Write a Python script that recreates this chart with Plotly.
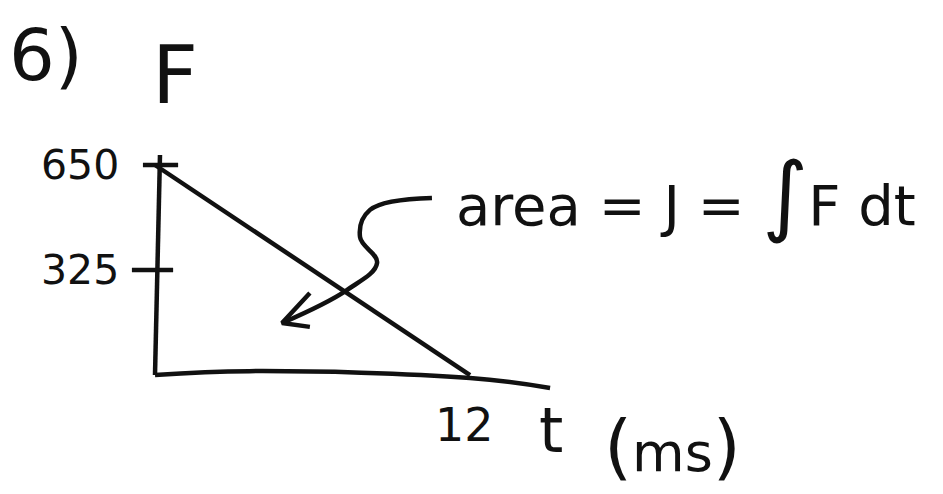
import plotly.graph_objects as go

# Force pulse: F falls linearly from 650 at t = 0 to zero at t = 12 ms
t_pulse = [0, 12]
f_pulse = [650, 0]

# Hand-drawn axes (slight wobble on the time axis)
t_axis_t = [0, 3.6, 12, 15.05]
t_axis_f = [0, 12, -9, -40]
f_axis_t = [0, 0.19]
f_axis_f = [0, 681]

# Tick marks on the force axis
tick_values = [650, 325]
tick_labels = ["650", "325"]
tick_left = [-0.46, -0.88]
tick_right = [0.88, 0.69]

# Curved pointer from the note into the triangle
arrow_t = [10.55, 8.19, 7.81, 8.46, 7.31, 4.84]
arrow_f = [548, 511, 427, 347, 263, 161]
head_t = [5.90, 4.84, 5.90]
head_f = [254, 161, 149]

INK = "#111111"
LW = 4.5
FONT = "DejaVu Sans"

fig = go.Figure()


def stroke(xs, ys, shape="linear"):
    fig.add_trace(go.Scatter(
        x=xs, y=ys, mode="lines",
        line=dict(color=INK, width=LW, shape=shape, smoothing=1.1),
        hoverinfo="skip", showlegend=False,
    ))


stroke(f_axis_t, f_axis_f)
stroke(t_axis_t, t_axis_f, shape="spline")
stroke(t_pulse, f_pulse)
for v, a, b in zip(tick_values, tick_left, tick_right):
    stroke([a, b], [v, v])
stroke(arrow_t, arrow_f, shape="spline")
stroke(head_t, head_f)


def label(text, x, y, size, xanchor="center", yanchor="middle"):
    fig.add_annotation(
        x=x, y=y, xref="x", yref="y", text=text, showarrow=False,
        xanchor=xanchor, yanchor=yanchor,
        font=dict(family=FONT, size=size, color=INK),
    )


for v, txt in zip(tick_values, tick_labels):
    label(txt, -1.3, v, 41, xanchor="right")

label("12", t_pulse[1] - 0.2, -155, 46)
label("t", 15.1, -172, 62)
label("<span style='font-size:72px'>(</span>ms<span style='font-size:72px'>)</span>",
      19.7, -220, 54)
label("F", 0.76, 928, 80)
label("6)", -4.15, 990, 72)
label("area = J = <span style='font-size:88px'>∫</span>F dt", 11.4, 560, 56,
      xanchor="left")

fig.update_layout(
    width=943, height=494,
    margin=dict(l=0, r=0, t=0, b=0),
    paper_bgcolor="white", plot_bgcolor="white",
    xaxis=dict(range=[-5.905, 30.019], visible=False, fixedrange=True),
    yaxis=dict(range=[-368.3, 1160.7], visible=False, fixedrange=True),
)

fig.write_html("out.html")
